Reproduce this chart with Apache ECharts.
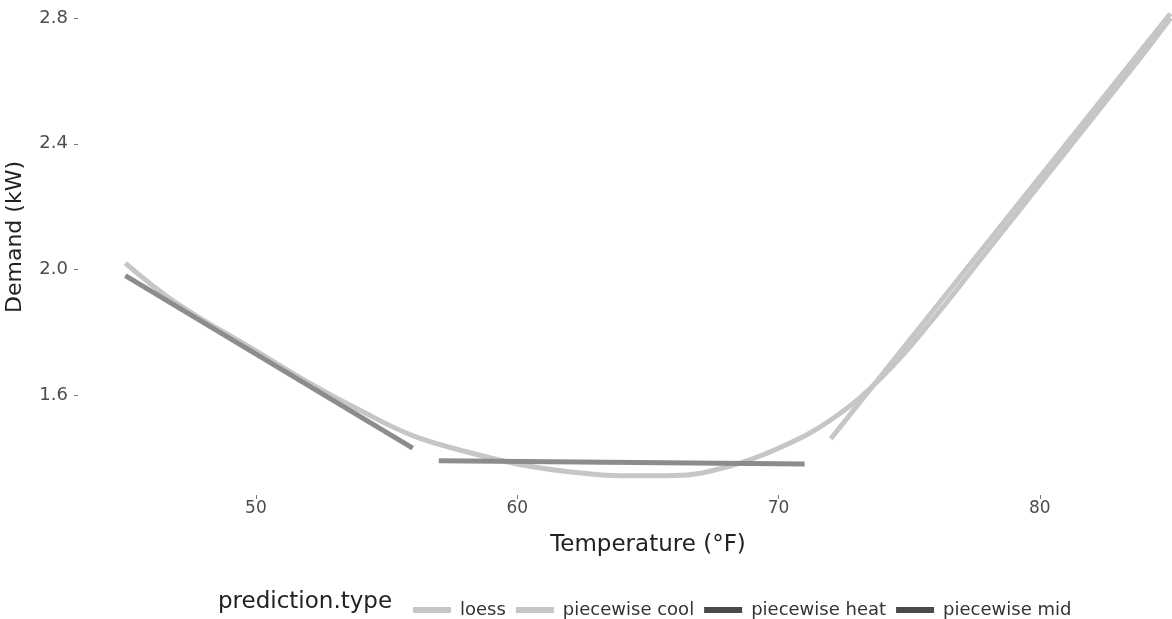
<!DOCTYPE html>
<html>
<head>
<meta charset="utf-8">
<script src="https://cdn.jsdelivr.net/npm/echarts@6/dist/echarts.min.js"></script>
<style>
html,body{margin:0;padding:0;background:#fff;}
#chart{width:1172px;height:619px;}
</style>
</head>
<body>
<div id="chart"></div>
<script>
// Data (temperature °F, demand kW)
var seriesNames = ['loess', 'piecewise cool', 'piecewise heat', 'piecewise mid'];
var loessData = [[45,2.02],[47,1.89],[50,1.74],[52,1.64],[54,1.55],[56,1.47],[58,1.42],[60,1.38],[62,1.355],[64,1.342],[66,1.343],[68,1.37],[70,1.43],[72,1.52],[74,1.66],[76,1.85],[78,2.06],[80,2.27],[82,2.48],[84,2.69],[85,2.80]];
var coolData = [[72,1.46],[85,2.815]];
var heatData = [[45,1.98],[56,1.43]];
var midData = [[57,1.39],[71,1.38]];
var xTicks = [50,60,70,80];
var yTicks = [1.6,2.0,2.4,2.8];

var font = 'DejaVu Sans';
var chart = echarts.init(document.getElementById('chart'));
var lightCol = '#c6c6c6', darkCol = '#8c8c8c';
chart.setOption({
  backgroundColor: '#ffffff',
  animation: false,
  grid: {left: 78, right: 0, top: 0, bottom: 124, containLabel: false, outerBoundsMode: 'none'},
  xAxis: {
    type: 'value', min: 43.19, max: 85.06,
    axisLine: {show: false},
    splitLine: {show: false},
    axisTick: {show: true, customValues: xTicks, length: 4, lineStyle: {color: '#777', width: 1}},
    axisLabel: {customValues: xTicks, fontFamily: font, fontSize: 17, color: '#4d4d4d', margin: 5,
      formatter: function(v){return String(v);}}
  },
  yAxis: {
    type: 'value', min: 1.281, max: 2.858,
    axisLine: {show: false},
    splitLine: {show: false},
    axisTick: {show: true, customValues: yTicks, length: 4, lineStyle: {color: '#777', width: 1}},
    axisLabel: {customValues: yTicks, fontFamily: font, fontSize: 18, color: '#4d4d4d', margin: 10,
      formatter: function(v){return v.toFixed(1);}}
  },
  legend: {
    left: 408, top: 596, icon: 'rect', itemWidth: 38, itemHeight: 6, itemGap: 10,
    textStyle: {fontFamily: font, fontSize: 18, color: '#333', padding: [0, 0, 0, 4]},
    data: [
      {name: seriesNames[0], itemStyle: {color: lightCol}},
      {name: seriesNames[1], itemStyle: {color: lightCol}},
      {name: seriesNames[2], itemStyle: {color: '#4a4a4a'}},
      {name: seriesNames[3], itemStyle: {color: '#4a4a4a'}}
    ]
  },
  graphic: [
    {type: 'text', left: 218, top: 591,
     style: {text: 'prediction.type', fontFamily: font, fontSize: 23, fill: '#222'}},
    {type: 'text', x: 648, y: 545,
     style: {text: 'Temperature (°F)', fontFamily: font, fontSize: 23, fill: '#222', align: 'center', verticalAlign: 'middle'}},
    {type: 'text', x: 15, y: 237, rotation: Math.PI / 2,
     style: {text: 'Demand (kW)', fontFamily: font, fontSize: 22, fill: '#222', align: 'center', verticalAlign: 'middle'}}
  ],
  series: [
    {name: seriesNames[0], type: 'line', data: loessData, smooth: 0.4, showSymbol: false,
     lineStyle: {color: lightCol, width: 5, cap: 'butt'}, itemStyle: {color: lightCol}, z: 2},
    {name: seriesNames[1], type: 'line', data: coolData, showSymbol: false,
     lineStyle: {color: lightCol, width: 5, cap: 'butt'}, itemStyle: {color: lightCol}, z: 3},
    {name: seriesNames[2], type: 'line', data: heatData, showSymbol: false,
     lineStyle: {color: darkCol, width: 5, cap: 'butt'}, itemStyle: {color: darkCol}, z: 4},
    {name: seriesNames[3], type: 'line', data: midData, showSymbol: false,
     lineStyle: {color: darkCol, width: 5, cap: 'butt'}, itemStyle: {color: darkCol}, z: 4}
  ]
});
</script>
</body>
</html>
